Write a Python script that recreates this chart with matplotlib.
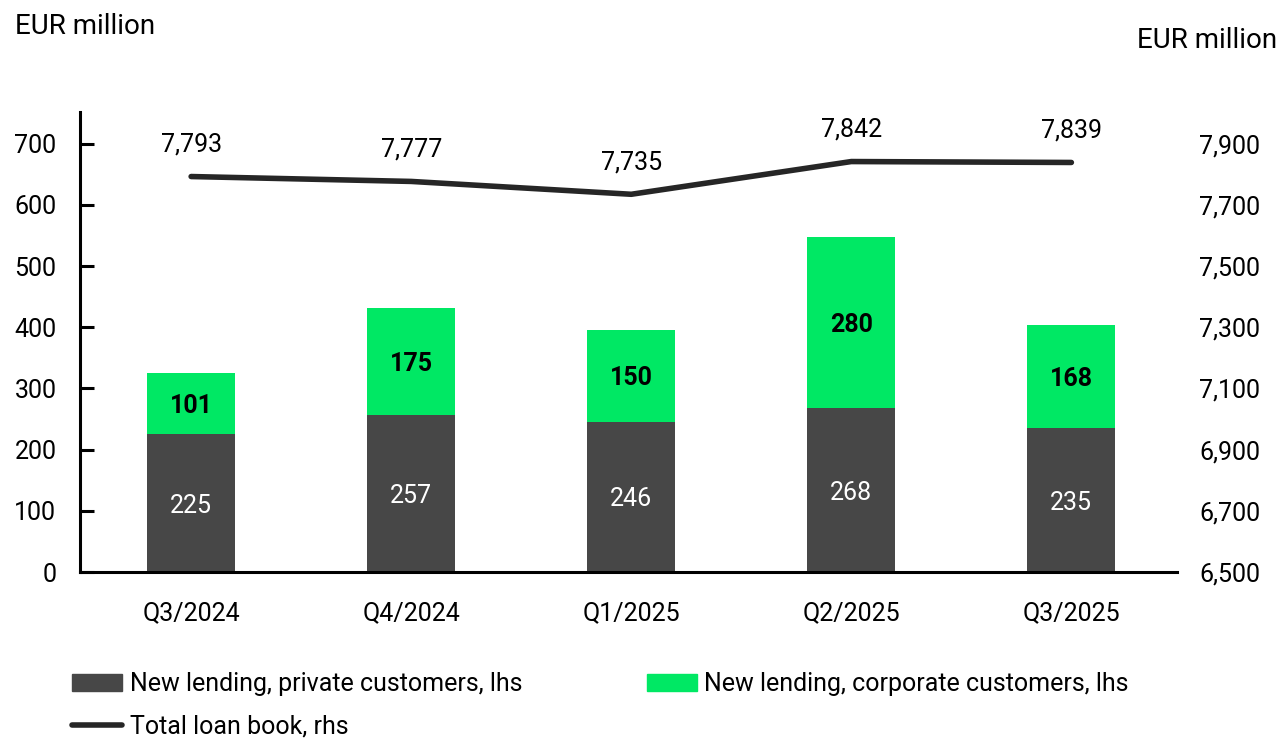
import matplotlib
matplotlib.use("Agg")
import matplotlib.pyplot as plt
from matplotlib.lines import Line2D
from matplotlib.patches import Patch

categories = ["Q3/2024", "Q4/2024", "Q1/2025", "Q2/2025", "Q3/2025"]
private = [225, 257, 246, 268, 235]
corporate = [101, 175, 150, 280, 168]
loan_book = [7793, 7777, 7735, 7842, 7839]
left_ticks = [0, 100, 200, 300, 400, 500, 600, 700]
right_ticks = [6500, 6700, 6900, 7100, 7300, 7500, 7700, 7900]

plt.rcParams['font.family'] = ['Roboto', 'DejaVu Sans']
DARK = "#474747"
GREEN = "#00E864"
LINE = "#262626"
FS = 18

fig = plt.figure(figsize=(12.81, 7.40), dpi=100)
ax = fig.add_axes([80/1281, 1-572/740, (1177-80)/1281, (572-112)/740])
x = list(range(len(categories)))
ax.bar(x, private, width=0.4, color=DARK)
ax.bar(x, corporate, width=0.4, bottom=private, color=GREEN)
ax.set_xlim(-0.505, 4.48)
ax.set_ylim(0, 752)
ax.set_yticks(left_ticks)
ax.set_yticklabels([str(v) for v in left_ticks], fontsize=FS)
ax.set_xticks(x)
ax.set_xticklabels(categories, fontsize=FS)
ax.tick_params(axis='y', direction='in', length=10, width=2.2, pad=17)
ax.tick_params(axis='x', length=0, pad=21)
for s in ['top', 'right']:
    ax.spines[s].set_visible(False)
for s in ['left', 'bottom']:
    ax.spines[s].set_linewidth(2.2)

for i in x:
    ax.text(i, private[i] / 2, str(private[i]), ha='center', va='center_baseline',
            color='white', fontsize=FS)
    ax.text(i, private[i] + corporate[i] / 2, str(corporate[i]), ha='center',
            va='center_baseline', color='black', fontsize=FS, fontweight='bold')

ax2 = ax.twinx()
ax2.plot(x, loan_book, color=LINE, linewidth=4, solid_capstyle='round')
ax2.set_ylim(6500, 6500 + 2 * 752)
ax2.set_yticks(right_ticks)
ax2.set_yticklabels([f"{v:,}" for v in right_ticks], fontsize=FS)
ax2.tick_params(axis='y', length=0, pad=16)
for s in ['top', 'right', 'left', 'bottom']:
    ax2.spines[s].set_visible(False)
for i in x:
    ax2.annotate(f"{loan_book[i]:,}", (i, loan_book[i]), xytext=(0, 23),
                 textcoords='offset points', ha='center', va='center', fontsize=FS)

fig.text(15/1281, 1-27/740, "EUR million", fontsize=20, ha='left', va='center')
fig.text(1277/1281, 1-41/740, "EUR million", fontsize=20, ha='right', va='center')

h_private = Patch(color=DARK)
h_corp = Patch(color=GREEN)
h_line = Line2D([0], [0], color=LINE, linewidth=4, solid_capstyle='round')
handles = [h_private, h_line, h_corp]
labels = ["New lending, private customers, lhs", "Total loan book, rhs",
          "New lending, corporate customers, lhs"]
fig.legend(handles, labels, loc='upper left', bbox_to_anchor=(72/1281, 1-672/740),
           ncol=2, frameon=False, fontsize=FS, handlelength=2.0, handleheight=0.65,
           handletextpad=0.3, columnspacing=5.0, labelspacing=0.75, borderaxespad=0,
           borderpad=0)

fig.savefig("out.png", dpi=100)
